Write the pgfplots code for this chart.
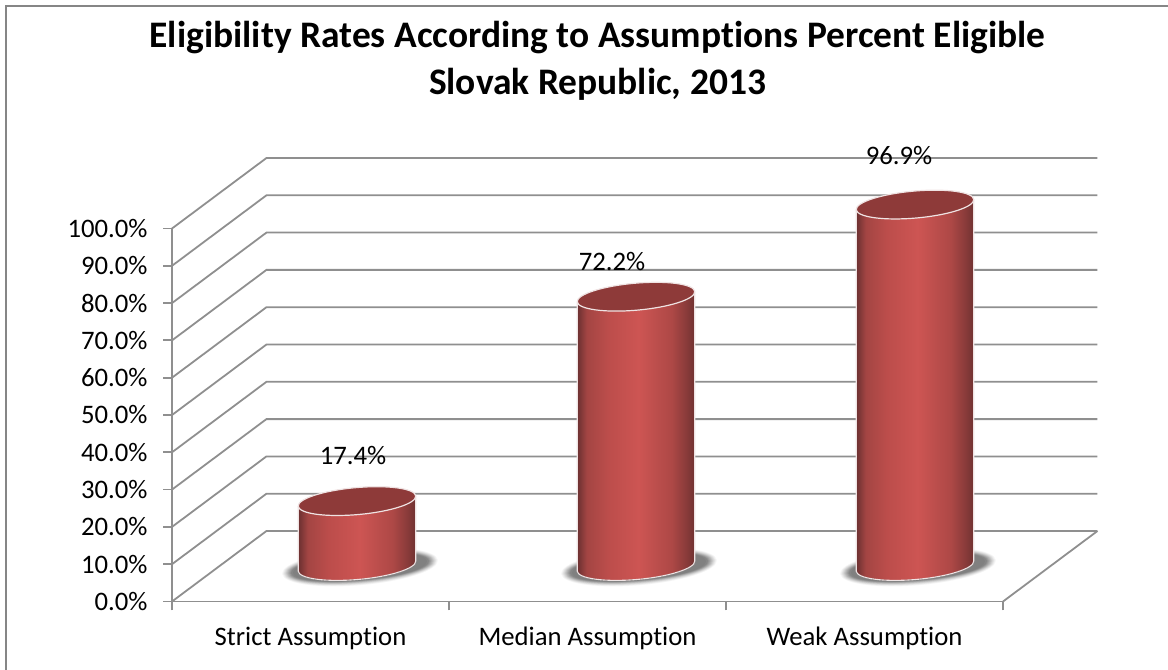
\documentclass[border=0pt]{standalone}
\usepackage{pgfplots}
\pgfplotsset{compat=1.18}
\usepackage{fontspec}
\setmainfont[Ligatures=CommonOff]{Carlito}
\definecolor{gridc}{HTML}{8F8F8F}
\definecolor{framec}{HTML}{868686}
\definecolor{topc}{HTML}{8E3A39}
\definecolor{edgec}{HTML}{EFE3E3}
\definecolor{c0}{HTML}{6B3030}
\definecolor{c1}{HTML}{A34543}
\definecolor{c2}{HTML}{BC4D4B}
\definecolor{c3}{HTML}{CD5553}
\definecolor{c4}{HTML}{AD4846}
\definecolor{c45}{HTML}{8A3B3A}
\definecolor{c5}{HTML}{6E3130}
\pgfdeclarehorizontalshading{cylbody}{100bp}{
  color(0bp)=(c0);
  color(25bp)=(c0);
  color(29bp)=(c1);
  color(38bp)=(c2);
  color(51bp)=(c3);
  color(65bp)=(c4);
  color(71bp)=(c45);
  color(75bp)=(c5);
  color(100bp)=(c5)
}
\tikzset{tilted/.style={x={(.9962bp,.0872bp)},y={(-.0872bp,.9962bp)}}}
\pgfdeclareplotmark{cylinder}{%
  \pgfmathsetmacro\H{\vy*3.73}%
  \foreach \aa/\bb/\gg in {78/18/6,77/17.3/14,76/16.6/24,75/16/34,74/15.4/45,73/14.9/56,72/14.4/66,71/14/76,70/13.6/86,69/13.2/95,67/13/100}{
    \fill[gray!\gg!white,tilted] ({3*.9962-(\H+1)*.0872},{-3*.0872-(\H+1)*.9962}) ellipse ({\aa} and {\bb});
  }
  \path[shading=cylbody] (-58.78bp,-5.14bp) -- (-58.78bp,{-\H*1bp-5.14bp})
    .. controls (-58.13bp,{-\H*1bp-12.57bp}) and (-31.30bp,{-\H*1bp-16.29bp}) .. (1.18bp,{-\H*1bp-13.45bp})
    .. controls (33.66bp,{-\H*1bp-10.61bp}) and (59.43bp,{-\H*1bp-2.29bp}) .. (58.78bp,{-\H*1bp+5.14bp})
    -- (58.78bp,5.14bp) -- cycle;
  \draw[edgec,line width=1.1bp] (-58.78bp,-5.14bp) -- (-58.78bp,{-\H*1bp-5.14bp})
    .. controls (-58.13bp,{-\H*1bp-12.57bp}) and (-31.30bp,{-\H*1bp-16.29bp}) .. (1.18bp,{-\H*1bp-13.45bp})
    .. controls (33.66bp,{-\H*1bp-10.61bp}) and (59.43bp,{-\H*1bp-2.29bp}) .. (58.78bp,{-\H*1bp+5.14bp})
    -- (58.78bp,5.14bp);
  \draw[fill=topc,draw=edgec,line width=1.2bp,tilted] (0,0) ellipse (59 and 13.5);
}
\begin{document}
\begin{tikzpicture}
\path[use as bounding box] (0,0) rectangle (1168bp,670bp);
\draw[framec,line width=1.8bp] (6bp,0bp) -- (6bp,664bp) -- (1168bp,664bp);
\node[font=\fontsize{37.6}{40}\bfseries\selectfont,text=black,anchor=center] at (597.5bp,632bp) {Eligibility Rates According to Assumptions Percent Eligible};
\node[font=\fontsize{37.6}{40}\bfseries\selectfont,text=black,anchor=center] at (597.5bp,585.5bp) {Slovak Republic, 2013};
\begin{axis}[
  at={(172bp,68.5bp)}, anchor=south west, scale only axis,
  width=831bp, height=373bp,
  xmin=0, xmax=3, ymin=0, ymax=100, clip=false,
  axis lines=left,
  axis line style={-,gridc,line width=1.8bp},
  tick style={gridc,line width=1.8bp},
  tick align=outside, major tick length=9bp,
  xtick={0,1,2,3},
  xticklabels={Strict Assumption,Median Assumption,Weak Assumption,{}},
  x tick label as interval=true,
  ytick={0,10,...,100},
  /pgf/number format/assume math mode=true,
  yticklabel={\pgfmathprintnumber[fixed,fixed zerofill,precision=1]{\tick}\%},
  tick label style={font=\fontsize{26.8}{30}\selectfont,text=black},
  yticklabel style={xshift=-12bp},
  xticklabel style={yshift=-13bp},
]
\pgfplotsinvokeforeach{0,10,...,100}{
  \addplot[gridc,line width=1.8bp,mark=none] coordinates {(0,#1) (0.341,#1+18.9) (3.341,#1+18.9)};
}
\addplot[gridc,line width=1.8bp,mark=none] coordinates {(3,0) (3.341,18.9)};
\end{axis}
\begin{axis}[
  at={(357bp,104bp)}, anchor=south west, scale only axis,
  width=558bp, height=373bp,
  xmin=0, xmax=2, ymin=0, ymax=100, clip=false,
  hide axis,
]
\addplot[scatter, only marks, mark=cylinder,
  visualization depends on={rawy \as \vy},
  scatter/@pre marker code/.code={},
  scatter/@post marker code/.code={},
] coordinates {(0,17.4) (1,72.2) (2,96.9)};
\node[font=\fontsize{26.8}{30}\selectfont,text=black] at (axis cs:0,17.4) [xshift=-4bp,yshift=46bp] {17.4\%};
\node[font=\fontsize{26.8}{30}\selectfont,text=black] at (axis cs:1,72.2) [xshift=-24bp,yshift=35bp] {72.2\%};
\node[font=\fontsize{26.8}{30}\selectfont,text=black] at (axis cs:2,96.9) [xshift=-16bp,yshift=49bp] {96.9\%};
\end{axis}
\end{tikzpicture}
\end{document}
